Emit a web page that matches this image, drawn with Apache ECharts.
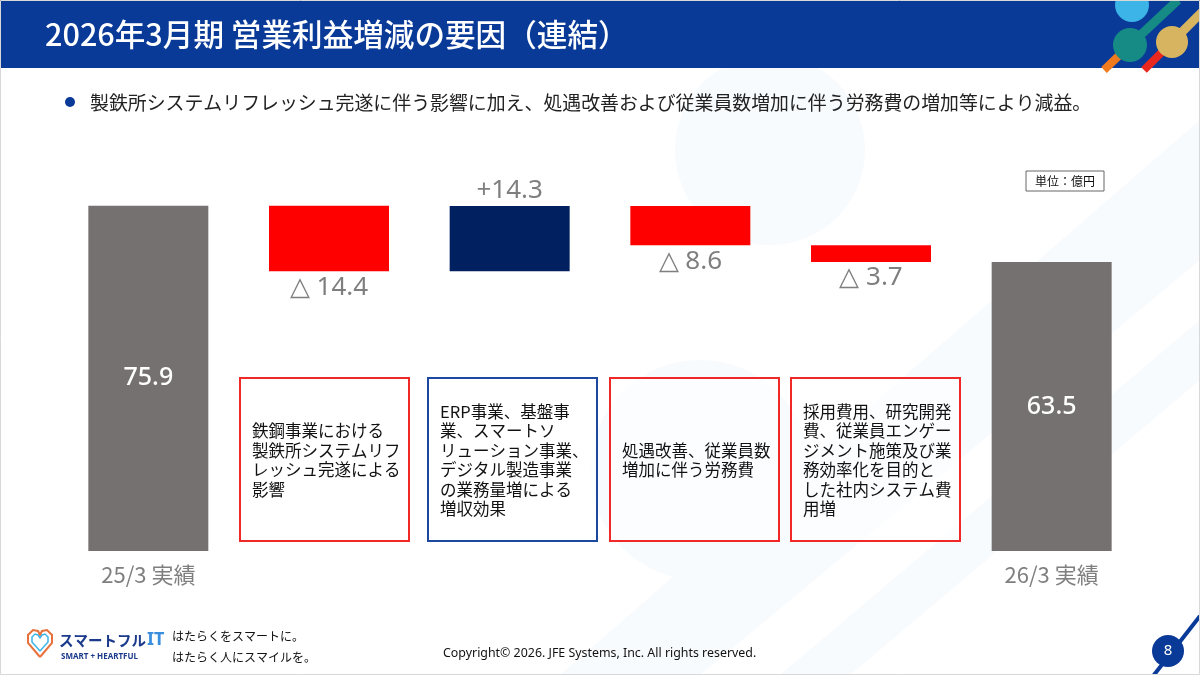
<!DOCTYPE html>
<html lang="ja">
<head>
<meta charset="utf-8">
<title>2026年3月期 営業利益増減の要因(連結)</title>
<script src="https://cdn.jsdelivr.net/npm/echarts@6/dist/echarts.min.js"></script>
<style>
  html, body { margin: 0; padding: 0; background: #fff; }
  #chart { width: 1200px; height: 675px; }
</style>
</head>
<body>
<div id="chart"></div>
<script>
// --- data ---
const categories = ['25/3 実績', '', '', '', '', '26/3 実績'];
const startValue = 75.9;
const deltas = [-14.4, 14.3, -8.6, -3.7];
const endValue = 63.5;
const valueLabels = ['75.9', '△ 14.4', '+14.3', '△ 8.6', '△ 3.7', '63.5'];
const notes = [
  { text: '鉄鋼事業における\n製鉄所システムリフ\nレッシュ完遂による\n影響', color: '#f02828' },
  { text: 'ERP事業、基盤事\n業、スマートソ\nリューション事業、\nデジタル製造事業\nの業務量増による\n増収効果', color: '#1c48a0' },
  { text: '処遇改善、従業員数\n増加に伴う労務費', color: '#f02828' },
  { text: '採用費用、研究開発\n費、従業員エンゲー\nジメント施策及び業\n務効率化を目的と\nした社内システム費\n用増', color: '#f02828' }
];

const GRAY = '#767171';
const RED = '#ff0000';
const NAVY = '#002060';
const JP = '"Noto Sans CJK JP", "Noto Sans", sans-serif';

// waterfall: invisible base + visible bar
const bases = [0];
const heights = [startValue];
let running = startValue;
deltas.forEach(d => {
  if (d < 0) {
    running += d;
    bases.push(running);
  } else {
    bases.push(running);
    running += d;
  }
  heights.push(Math.abs(d));
});
bases.push(0);
heights.push(endValue);

const barData = heights.map((v, i) => {
  const isTotal = i === 0 || i === heights.length - 1;
  const d = isTotal ? 0 : deltas[i - 1];
  let color = GRAY;
  if (!isTotal) color = d < 0 ? RED : NAVY;
  return {
    value: v,
    itemStyle: { color },
    label: isTotal
      ? { position: 'inside', color: '#fff', fontSize: 25, fontWeight: 500 }
      : { position: d < 0 ? 'bottom' : 'top', color: '#7f7f7f', fontSize: 26, distance: 3 }
  };
});

const chart = echarts.init(document.getElementById('chart'));

// note boxes under the delta bars
const boxX = [240, 428, 610, 791];
const noteEls = [];
notes.forEach((n, i) => {
  noteEls.push({
    type: 'rect',
    shape: { x: boxX[i], y: 378, width: 169, height: 163 },
    style: { fill: 'rgba(255,255,255,0.5)', stroke: n.color, lineWidth: 2 }
  });
  noteEls.push({
    type: 'text',
    style: {
      text: n.text, x: boxX[i] + 12, y: 460,
      textAlign: 'left', textVerticalAlign: 'middle',
      font: '16.5px ' + JP, lineHeight: 19.5, fill: '#111'
    }
  });
});

chart.setOption({
  backgroundColor: '#fff',
  animation: false,
  grid: { left: 58, right: 58, top: 187, bottom: 124 },
  xAxis: {
    type: 'category',
    data: categories,
    axisLine: { show: false },
    axisTick: { show: false },
    axisLabel: { color: '#7f7f7f', fontSize: 22, fontFamily: JP, margin: 13, interval: 0 }
  },
  yAxis: { type: 'value', min: 0, max: 80, show: false },
  series: [
    {
      name: 'base',
      type: 'bar',
      stack: 'wf',
      barWidth: 120,
      itemStyle: { color: 'transparent' },
      data: bases,
      silent: true
    },
    {
      name: '営業利益',
      type: 'bar',
      stack: 'wf',
      barWidth: 120,
      data: barData,
      label: {
        show: true,
        fontFamily: '"Noto Sans", sans-serif',
        formatter: p => valueLabels[p.dataIndex]
      }
    }
  ],
  graphic: [
    // faint background decoration
    { type: 'circle', z: -5, shape: { cx: 770, cy: 150, r: 95 }, style: { fill: '#f7fbfe' } },
    { type: 'circle', z: -5, shape: { cx: 700, cy: 470, r: 110 }, style: { fill: '#f8fbfe' } },
    { type: 'polygon', z: -5, shape: { points: [[560, 675], [700, 675], [1200, 260], [1200, 120]] }, style: { fill: '#f8fbfe' } },
    { type: 'polygon', z: -5, shape: { points: [[780, 675], [850, 675], [1200, 380], [1200, 320]] }, style: { fill: '#f8fbfe' } },
    // header
    { type: 'rect', shape: { x: 0, y: 0, width: 1200, height: 68 }, style: { fill: '#093a98' } },
    {
      type: 'text',
      style: { text: '2026年3月期 営業利益増減の要因（連結）', x: 45, y: 34, textVerticalAlign: 'middle', font: '500 30.6px ' + JP, fill: '#fff' }
    },
    // header logo
    { type: 'line', shape: { x1: 1130, y1: 45, x2: 1104, y2: 70 }, style: { stroke: '#f07a1e', lineWidth: 8 } },
    { type: 'line', shape: { x1: 1172, y1: 42, x2: 1144, y2: 70 }, style: { stroke: '#e8281e', lineWidth: 8 } },
    { type: 'line', shape: { x1: 1130, y1: 45, x2: 1178, y2: 0 }, style: { stroke: '#168a84', lineWidth: 9 } },
    { type: 'line', shape: { x1: 1172, y1: 42, x2: 1204, y2: 10 }, style: { stroke: '#d6b460', lineWidth: 9 } },
    { type: 'circle', shape: { cx: 1132, cy: 5, r: 17 }, style: { fill: '#3cb4e8' } },
    { type: 'circle', shape: { cx: 1130, cy: 45, r: 17 }, style: { fill: '#168a84' } },
    { type: 'circle', shape: { cx: 1172, cy: 42, r: 16 }, style: { fill: '#d6b460' } },
    // bullet line
    { type: 'circle', shape: { cx: 70, cy: 102, r: 5 }, style: { fill: '#093a98' } },
    {
      type: 'text',
      style: { text: '製鉄所システムリフレッシュ完遂に伴う影響に加え、処遇改善および従業員数増加に伴う労務費の増加等により減益。', x: 90, y: 103, textVerticalAlign: 'middle', font: '18.9px ' + JP, fill: '#222' }
    },
    // unit box
    { type: 'rect', shape: { x: 1026, y: 171, width: 78, height: 20 }, style: { fill: '#fff', stroke: '#666', lineWidth: 1 } },
    { type: 'text', style: { text: '単位：億円', x: 1065, y: 181, textAlign: 'center', textVerticalAlign: 'middle', font: '12px ' + JP, fill: '#111' } },
    ...noteEls,
    // footer logo
    {
      type: 'polyline',
      shape: { points: [[40, 657], [28, 643], [28, 635], [33, 630], [38, 631], [40, 635], [42, 631], [47, 630], [52, 635], [52, 643], [40, 657]] },
      style: { stroke: '#e8703a', lineWidth: 2, fill: null }
    },
    {
      type: 'polyline',
      shape: { points: [[40, 651], [32, 642], [32, 637], [35, 634], [38, 635], [40, 638], [42, 635], [45, 634], [48, 637], [48, 642], [40, 651]] },
      style: { stroke: '#3cb4e8', lineWidth: 1.5, fill: null }
    },
    { type: 'text', style: { text: 'スマートフル', x: 59, y: 640, textVerticalAlign: 'middle', font: 'bold 14.5px ' + JP, fill: '#1b3a8c' } },
    { type: 'text', style: { text: 'IT', x: 147, y: 640, textVerticalAlign: 'middle', font: 'bold 18px "Noto Sans", sans-serif', fill: '#3a8ede' } },
    { type: 'text', style: { text: 'SMART + HEARTFUL', x: 61, y: 657, textVerticalAlign: 'middle', font: 'bold 8px "Noto Sans", sans-serif', fill: '#1b3a8c' } },
    { type: 'text', style: { text: 'はたらくをスマートに。', x: 172, y: 636, textVerticalAlign: 'middle', font: '12px ' + JP, fill: '#111' } },
    { type: 'text', style: { text: 'はたらく人にスマイルを。', x: 172, y: 657, textVerticalAlign: 'middle', font: '12px ' + JP, fill: '#111' } },
    { type: 'text', style: { text: 'Copyright© 2026. JFE Systems, Inc. All rights reserved.', x: 443, y: 653, textVerticalAlign: 'middle', font: '12.4px "Noto Sans", sans-serif', fill: '#111' } },
    // page number
    { type: 'line', shape: { x1: 1150, y1: 680, x2: 1200, y2: 616 }, style: { stroke: '#093a98', lineWidth: 4 } },
    { type: 'circle', shape: { cx: 1168, cy: 651, r: 16 }, style: { fill: '#093a98' } },
    { type: 'text', style: { text: '8', x: 1168, y: 651, textAlign: 'center', textVerticalAlign: 'middle', font: '15px "Noto Sans", sans-serif', fill: '#fff' } },
    // slide frame
    { type: 'rect', shape: { x: 0.5, y: 0.5, width: 1199, height: 674 }, style: { fill: 'none', stroke: '#d8d8d8', lineWidth: 1 } }
  ]
});

window.addEventListener('resize', () => chart.resize());
</script>
</body>
</html>
